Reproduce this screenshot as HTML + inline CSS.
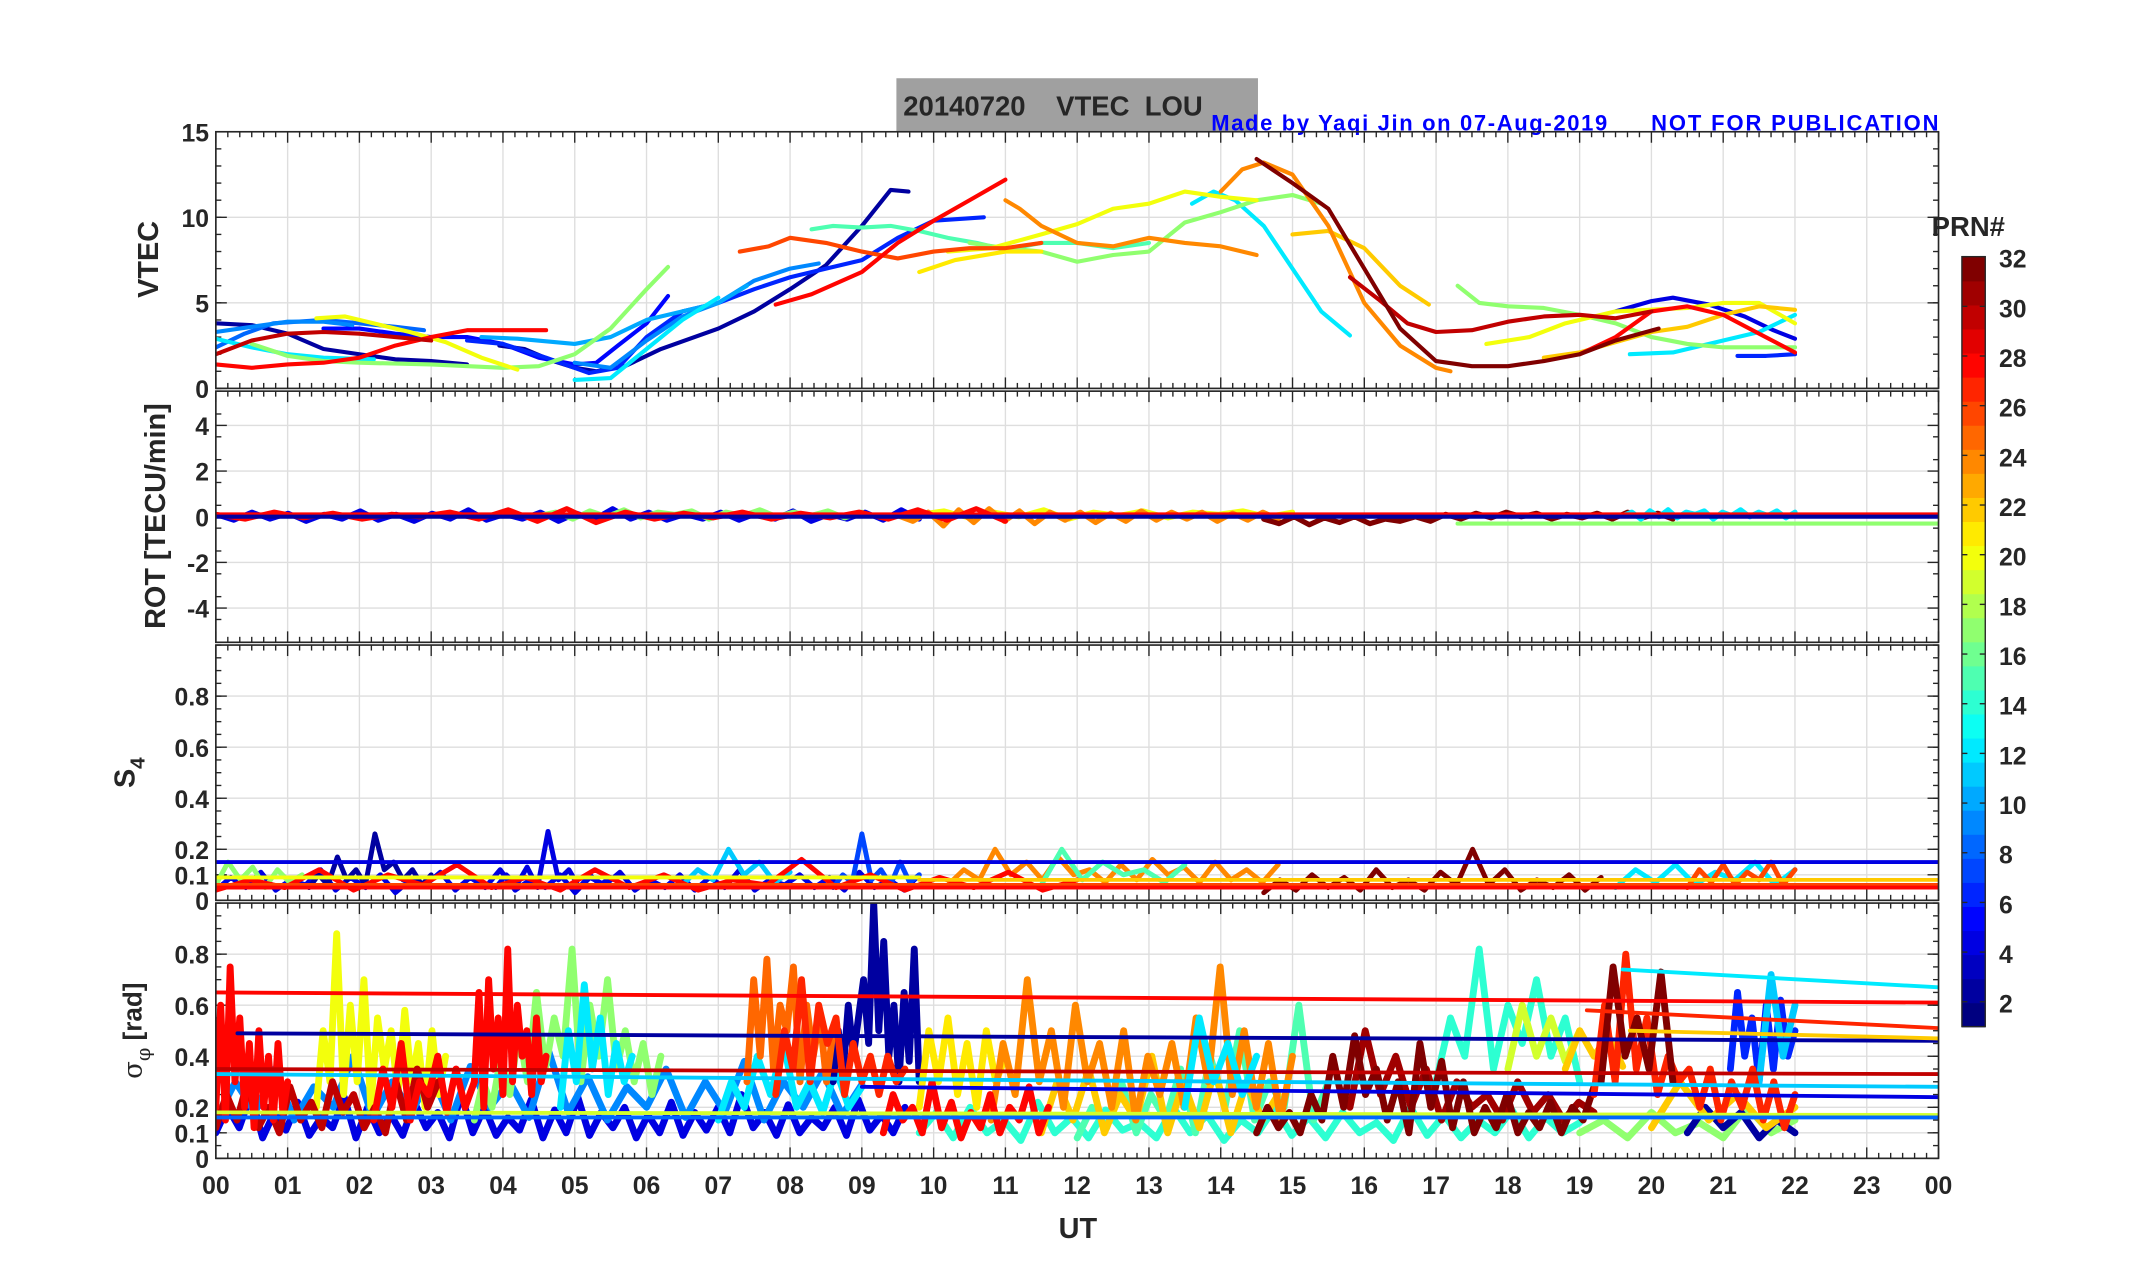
<!DOCTYPE html>
<html><head><meta charset="utf-8"><title>VTEC LOU</title>
<style>
html,body{margin:0;padding:0;background:#fff;}
svg{display:block;}
text{font-family:"Liberation Sans",sans-serif;font-weight:bold;fill:#262626;}
.tk{font-family:"Liberation Sans Narrow","Liberation Sans",sans-serif;font-size:18px;}
</style></head><body>
<svg id="fig" width="2153" height="1286" viewBox="0 0 1566 937" preserveAspectRatio="none" xmlns="http://www.w3.org/2000/svg">
<rect x="0" y="0" width="1566" height="937" fill="#fff"/>
<g id="title-box">
<rect x="652" y="57" width="263" height="39" fill="#a0a0a0"/>
<text x="657" y="84" font-size="20" xml:space="preserve" fill="#1a1a1a">20140720    VTEC  LOU</text>
</g>
<text x="881" y="95" font-size="16" style="fill:#0000ff" textLength="288">Made by Yaqi Jin on 07-Aug-2019</text>
<text x="1201" y="95" font-size="16" style="fill:#0000ff" textLength="209">NOT FOR PUBLICATION</text>
<g id="layer"></g>
</svg>
<script>
// ---------------- VTEC data: [hour, TECU] per PRN ----------------
const vtec_prn2a=[[0,3.8],[0.5,3.7],[1,3.2],[1.5,2.3],[2,2.0],[2.5,1.7],[3,1.6],[3.5,1.4]];
const vtec_prn2b=[[3.95,2.5],[4.3,2.3],[4.7,1.6],[5.0,1.2],[5.3,1.0],[5.7,1.3],[6.2,2.3],[7,3.5],[7.5,4.5],[8,5.8],[8.5,7.2],[9,9.5],[9.4,11.6],[9.65,11.5]];
const vtec_prn5=[[1.5,3.5],[2,3.5],[2.5,3.2],[3,3.0],[3.5,3.0],[4,2.6],[4.5,1.8],[5,1.4],[5.3,1.5],[5.6,2.5],[6,3.8],[6.3,5.4]];
const vtec_prn6=[[3.5,2.8],[4,2.6],[4.6,1.8],[5.2,0.9],[5.6,1.2],[6,3.0],[6.5,4.5],[7,5.0],[7.5,5.8],[8,6.5],[8.5,7.0],[9,7.5],[9.5,8.8],[10,9.8],[10.7,10.0]];
const vtec_prn6b=[[21.2,1.9],[21.6,1.9],[22,2.0]];
const vtec_prn4=[[19.5,4.5],[20,5.1],[20.3,5.3],[20.8,4.9],[21.3,4.2],[21.7,3.4],[22,2.9]];
const vtec_prn8=[[0,2.4],[0.4,3.2],[0.8,3.8],[1.5,4.0],[2,3.8],[2.5,3.6],[2.9,3.4]];
const vtec_prn9=[[0,3.3],[0.5,3.6],[1,3.9],[1.5,3.9],[1.9,3.7]];
const vtec_prn9b=[[5,1.5],[5.5,1.2],[6,2.8],[6.5,4.2],[7,5.0],[7.5,6.3],[8,7.0],[8.4,7.3]];
const vtec_prn10=[[3.7,3.0],[4.2,2.9],[5,2.6],[5.5,3.0],[6,4.0],[6.5,4.5],[7,5.0],[7.4,6.0]];
const vtec_prn12a=[[0,2.9],[0.5,2.4],[1,2.0],[1.5,1.8],[2.2,1.7]];
const vtec_prn12b=[[5.0,0.5],[5.5,0.6],[6,2.3],[6.5,4.0],[7,5.3]];
const vtec_prn12c=[[13.6,10.8],[13.9,11.5],[14.2,11.0],[14.6,9.5],[15,7.0],[15.4,4.5],[15.8,3.1]];
const vtec_prn12d=[[19.7,2.0],[20.3,2.1],[21,2.8],[21.5,3.3],[22,4.3]];
const vtec_prn15=[[8.3,9.3],[8.6,9.5],[9,9.4],[9.4,9.5],[9.8,9.2],[10.2,8.8],[10.6,8.5],[11,8.1],[11.5,8.5],[12,8.5],[12.5,8.2],[13,8.5]];
const vtec_prn17a=[[0.5,2.6],[1,1.9],[1.5,1.6],[2,1.5],[3,1.4],[4,1.2],[4.5,1.3],[5,2.0],[5.5,3.5],[6,5.8],[6.3,7.1]];
const vtec_prn17b=[[10.5,8.5],[11,8.2],[11.5,8.0],[12,7.4],[12.5,7.8],[13,8.0],[13.5,9.7],[14,10.3],[14.5,11.0],[15,11.3],[15.4,10.8]];
const vtec_prn17c=[[17.3,6.0],[17.6,5.0],[18,4.8],[18.5,4.7],[19,4.3],[19.5,3.8],[20,3.0],[20.5,2.6],[21,2.4],[21.5,2.4],[22,2.4]];
const vtec_prn20a=[[1.4,4.1],[1.8,4.2],[2.2,3.8],[2.7,3.3],[3.2,2.7],[3.7,1.8],[4.2,1.1]];
const vtec_prn20b=[[10.2,8.0],[10.8,8.2],[11.5,9.0],[12,9.6],[12.5,10.5],[13,10.8],[13.5,11.5],[14,11.2],[14.5,11.0]];
const vtec_prn20c=[[17.7,2.6],[18.3,3.0],[18.8,3.8],[19.5,4.5],[20.5,4.7],[21,5.0],[21.5,5.0],[22,3.8]];
const vtec_prn21=[[9.8,6.8],[10.3,7.5],[11,8.0],[11.5,8.0]];
const vtec_prn22a=[[15,9.0],[15.5,9.2],[16,8.2],[16.5,6.0],[16.9,4.9]];
const vtec_prn22b=[[18.5,1.8],[19,2.1],[19.5,2.7],[20,3.3],[20.5,3.6],[21,4.3],[21.5,4.8],[22,4.6]];
const vtec_prn24a=[[11,11.0],[11.2,10.5],[11.5,9.5],[12,8.5],[12.5,8.3],[13,8.8],[13.5,8.5],[14,8.3],[14.5,7.8]];
const vtec_prn24b=[[14,11.5],[14.3,12.8],[14.6,13.2],[15,12.5],[15.5,9.5],[16,5.0],[16.5,2.5],[17,1.2],[17.2,1.0]];
const vtec_prn26=[[7.3,8.0],[7.7,8.3],[8,8.8],[8.5,8.5],[9,8.0],[9.5,7.6],[10,8.0],[10.5,8.2],[11,8.2],[11.5,8.5]];
const vtec_prn28a=[[0,1.4],[0.5,1.2],[1,1.4],[1.5,1.5],[2,1.8],[2.5,2.5],[3,3.0],[3.5,3.4],[4,3.4],[4.6,3.4]];
const vtec_prn28b=[[7.8,4.9],[8.3,5.5],[9,6.8],[9.5,8.5],[10,9.8],[10.5,11.0],[11,12.2]];
const vtec_prn28c=[[19,2.0],[19.5,3.0],[20,4.5],[20.5,4.8],[21,4.3],[21.5,3.2],[22,2.1]];
const vtec_prn30a=[[0,2.0],[0.5,2.8],[1,3.2],[1.5,3.3],[2,3.2],[2.5,3.0],[3,2.8]];
const vtec_prn30b=[[15.8,6.5],[16.2,5.2],[16.6,3.8],[17,3.3],[17.5,3.4],[18,3.9],[18.5,4.2],[19,4.3],[19.5,4.1],[20,4.5]];
const vtec_prn32=[[14.5,13.4],[15,12.0],[15.5,10.5],[16,7.0],[16.5,3.5],[17,1.6],[17.5,1.3],[18,1.3],[18.5,1.6],[19,2.0],[19.5,2.8],[20.1,3.5]];
const vtecSeries=[[2,vtec_prn2a],[2,vtec_prn2b],[5,vtec_prn5],[6,vtec_prn6],[6,vtec_prn6b],[4,vtec_prn4],[8,vtec_prn8],[9,vtec_prn9],[9,vtec_prn9b],[10,vtec_prn10],[12,vtec_prn12a],[12,vtec_prn12b],[12,vtec_prn12c],[12,vtec_prn12d],[15,vtec_prn15],[17,vtec_prn17a],[17,vtec_prn17b],[17,vtec_prn17c],[20,vtec_prn20a],[20,vtec_prn20b],[20,vtec_prn20c],[21,vtec_prn21],[22,vtec_prn22a],[22,vtec_prn22b],[24,vtec_prn24a],[24,vtec_prn24b],[26,vtec_prn26],[28,vtec_prn28a],[28,vtec_prn28b],[28,vtec_prn28c],[30,vtec_prn30a],[30,vtec_prn30b],[32,vtec_prn32]];

// ---------------- ROT data ----------------
const rot_blue=[0.1,-0.15,0.2,-0.1,0.15,-0.2,0.1,-0.1,0.25,-0.15,0.1,-0.2,0.15,-0.1,0.3,-0.15,0.1,-0.1,0.2,-0.2,0.15,-0.1,0.35,-0.1,0.2,-0.15,0.1,-0.1,0.2,-0.15,0.15,-0.1,0.25,-0.2,0.1,-0.1,0.2,-0.15,0.3,-0.1];
const rot_green=[0.05,0.2,-0.1,0.25,0.0,0.3,-0.05,0.2,0.1,0.25,-0.1,0.2,0.05,0.3,0.0,0.2,0.05,0.25,-0.05,0.2];
const rot_orange=[0.05,-0.2,0.2,-0.4,0.3,-0.25,0.35,-0.2,0.25,-0.3,0.2,-0.15,0.2,-0.25,0.15,-0.2,0.25,-0.15,0.2,-0.1,0.2,-0.2,0.15,-0.15,0.2,-0.1];
const rot_red=[0.1,-0.1,0.2,-0.05,0.15,-0.1,0.1,0.0,0.2,-0.1,0.3,-0.2,0.35,-0.25,0.2,-0.1,0.15,-0.05,0.2,-0.1,0.15,-0.05,0.2,-0.1,0.3,-0.15,0.35,-0.2];
const rot_maroon=[-0.1,-0.3,0.0,-0.35,-0.05,-0.25,0.0,-0.3,-0.1,-0.2,0.0,-0.2,0.1,-0.1,0.15,-0.05,0.2,0.0,0.15,-0.1,0.1,-0.05,0.15,-0.1,0.2,-0.05,0.15,-0.1];
const rot_yellow=[0.1,0.25,-0.05,0.2,0.0,0.3,-0.1,0.2,0.05,0.25,-0.05,0.2,0.1,0.25,0.0,0.2];
const rotSegs=[[4,0,9.8,rot_blue],[17,4.5,9,rot_green],[20,9.8,15,rot_yellow],[24,9.5,14.8,rot_orange],[28,0,11,rot_red],[32,14.6,20.3,rot_maroon],[12,19.6,22,rot_green]];
const rotFlat=[[28,0,24,0.1,0.1],[2,0,24,0.0,0.0],[17,17.3,24,-0.3,-0.3]];

// ---------------- S4 data ----------------
const s4_base=[0.04,0.09,0.05,0.11,0.04,0.08,0.06,0.12,0.04,0.09,0.05,0.1,0.03,0.08,0.06,0.11,0.04,0.09,0.05,0.12,0.04,0.08,0.05,0.1,0.03,0.09,0.06,0.11,0.04,0.08,0.05,0.1,0.04,0.09,0.05,0.12,0.04,0.08,0.06,0.1,0.05,0.09,0.04,0.11,0.05,0.08,0.04,0.1];
const s4_green=[0.06,0.15,0.08,0.13,0.05,0.12,0.07,0.1];
const s4_navy=[0.05,0.1,0.06,0.17,0.08,0.12,0.06,0.26,0.12,0.15,0.08,0.12,0.06,0.1];
const s4_blue=[0.05,0.1,0.06,0.13,0.05,0.27,0.08,0.12,0.05,0.1,0.06,0.09];
const s4_lblue=[0.06,0.12,0.08,0.2,0.1,0.15,0.07,0.11];
const s4_b9=[0.05,0.1,0.07,0.26,0.08,0.12,0.06,0.15,0.07,0.1];
const s4_orange=[0.06,0.12,0.08,0.2,0.1,0.15,0.08,0.17,0.1,0.12,0.07,0.14,0.08,0.16,0.1,0.13,0.07,0.15,0.08,0.12,0.07,0.14];
const s4_teal=[0.06,0.2,0.08,0.15,0.1,0.12,0.07,0.14];
const s4_red=[0.04,0.08,0.05,0.12,0.04,0.1,0.06,0.14,0.05,0.09,0.04,0.12,0.05,0.1,0.04,0.08,0.06,0.16,0.05,0.1,0.04,0.09,0.05,0.11,0.04,0.08];
const s4_maroon=[0.03,0.08,0.04,0.1,0.05,0.09,0.04,0.12,0.05,0.08,0.04,0.11,0.06,0.2,0.06,0.12,0.04,0.08,0.05,0.1,0.04,0.09];
const s4_late=[0.05,0.12,0.07,0.14,0.06,0.11,0.08,0.15,0.06,0.12];
const s4Segs=[[4,0,9.8,s4_base],[17,0,1.2,s4_green],[2,1.3,3,s4_navy],[4,3.9,5.5,s4_blue],[11,6.5,8,s4_lblue],[7,8.6,9.8,s4_b9],[24,10.2,14.8,s4_orange],[15,11.5,13.5,s4_teal],[28,0,12,s4_red],[32,14.6,19.3,s4_maroon],[12,19.5,22,s4_late],[26,20.5,22,s4_late]];
const s4Flat=[[4,0,24,0.15,0.15],[20,0,9.8,0.09,0.09],[22,9.8,24,0.08,0.08],[26,0,24,0.06,0.06],[28,0,24,0.05,0.05]];

// ---------------- sigma_phi data ----------------
const sig_blue=[0.1,0.2,0.12,0.25,0.08,0.18,0.11,0.22,0.09,0.16,0.12,0.24,0.08,0.2,0.1,0.17,0.09,0.22,0.12,0.18,0.08,0.25,0.1,0.2,0.09,0.16,0.11,0.23,0.08,0.19,0.1,0.24,0.09,0.18,0.12,0.2,0.08,0.17,0.1,0.22,0.09,0.18,0.11,0.2,0.1,0.25,0.12,0.18,0.09,0.21,0.1,0.16,0.12,0.2,0.09,0.23,0.11,0.17,0.1,0.2];
const sig_lblue=[0.15,0.3,0.18,0.35,0.15,0.28,0.2,0.4,0.16,0.3,0.18,0.33,0.15,0.36,0.2,0.3,0.16,0.42,0.18,0.32,0.15,0.28,0.2,0.35,0.16,0.3,0.18,0.38,0.15,0.3,0.2,0.34,0.17,0.29];
const sig_teal_low=[0.1,0.18,0.08,0.2,0.1,0.15,0.07,0.22,0.1,0.16,0.08,0.19,0.11,0.14,0.08,0.2,0.1,0.17,0.07,0.15,0.1,0.2,0.09,0.16,0.08,0.18,0.1,0.14,0.07,0.2,0.09,0.17,0.08,0.15,0.1,0.19,0.08,0.16,0.1,0.14];
const sig_navy=[0.3,0.5,0.35,0.6,0.4,0.55,0.7,0.45,1.0,0.5,0.85,0.4,0.6,0.3,0.65,0.38,0.82,0.3];
const sig_red_a=[0.2,0.6,0.15,0.75,0.3,0.55,0.2,0.45,0.12,0.5,0.2,0.4,0.15,0.45,0.18,0.3];
const sig_red_b=[0.3,0.65,0.2,0.7,0.35,0.55,0.25,0.82,0.3,0.6,0.4,0.5,0.25,0.55,0.3,0.4];
const sig_red_c=[0.15,0.35,0.2,0.45,0.15,0.3,0.25,0.4,0.18,0.35,0.2,0.3];
const sig_yellow_a=[0.2,0.5,0.3,0.88,0.25,0.6,0.3,0.7,0.2,0.55,0.35,0.5,0.25,0.58,0.3,0.45,0.2,0.5,0.25,0.4];
const sig_green_a=[0.15,0.3,0.2,0.4,0.25,0.5,0.3,0.65,0.35,0.55,0.4,0.82,0.3,0.6,0.4,0.7,0.35,0.5,0.3,0.45,0.25,0.4];
const sig_cyan_a=[0.2,0.5,0.3,0.68,0.35,0.55,0.25,0.45,0.3,0.4];
const sig_cyan_b=[0.15,0.3,0.2,0.4,0.25,0.45,0.2,0.3,0.18,0.35,0.2,0.28];
const sig_orred=[0.3,0.7,0.4,0.78,0.35,0.6,0.5,0.75,0.3,0.6,0.4,0.55,0.3,0.5];
const sig_red27=[0.25,0.5,0.35,0.7,0.3,0.6,0.45,0.55,0.25,0.45,0.3,0.4,0.25,0.4,0.3,0.35];
const sig_dred_a=[0.12,0.25,0.15,0.3,0.12,0.2,0.1,0.28,0.15,0.22,0.12,0.3,0.18,0.25,0.12,0.2,0.1,0.3,0.15,0.35,0.2,0.3];
const sig_red_low=[0.1,0.25,0.15,0.2,0.1,0.3,0.12,0.22,0.08,0.18,0.12,0.25,0.1,0.2,0.15,0.28,0.1,0.2];
const sig_yellow_b=[0.2,0.5,0.3,0.55,0.25,0.45,0.2,0.5,0.3,0.4];
const sig_orange24=[0.15,0.45,0.25,0.7,0.3,0.5,0.2,0.6,0.3,0.45,0.2,0.5,0.15,0.4,0.25,0.45,0.2,0.55,0.3,0.75,0.25,0.5,0.2,0.45,0.15,0.4];
const sig_orange22=[0.1,0.3,0.15,0.35,0.1,0.25,0.15,0.4,0.1,0.3,0.12,0.35,0.1,0.3,0.15,0.25];
const sig_green15=[0.08,0.2,0.12,0.3,0.1,0.25,0.15,0.35,0.1,0.4,0.2,0.5,0.15,0.3,0.2,0.6,0.15,0.3];
const sig_cyan_c=[0.2,0.55,0.3,0.45,0.25,0.4];
const sig_maroon=[0.1,0.2,0.12,0.18,0.1,0.25,0.15,0.4,0.2,0.48,0.25,0.35,0.15,0.3,0.1,0.45,0.2,0.38,0.12,0.3,0.1,0.2,0.12,0.25,0.1,0.18,0.12,0.22,0.1,0.2,0.15,0.28];
const sig_dred_b=[0.2,0.5,0.25,0.4,0.2,0.35,0.15,0.3,0.2,0.25,0.15,0.3,0.18,0.25,0.15,0.22,0.18];
const sig_mint=[0.3,0.55,0.4,0.82,0.35,0.6,0.45,0.7,0.4,0.55,0.3];
const sig_yellow_c=[0.35,0.6,0.4,0.55,0.38,0.5];
const sig_orange_c=[0.35,0.5,0.4,0.48,0.36];
const sig_red_d=[0.25,0.6,0.3,0.8,0.35,0.55,0.25,0.4,0.3,0.35,0.2,0.35,0.15,0.3,0.2,0.35,0.15,0.3,0.12,0.25];
const sig_maroon_b=[0.3,0.75,0.4,0.55,0.35,0.73,0.3];
const sig_green_c=[0.1,0.15,0.08,0.18,0.1,0.14,0.08,0.2,0.1,0.15];
const sig_blue6=[0.35,0.65,0.4,0.55,0.3,0.6,0.35,0.62,0.4,0.5];
const sig_cyan_d=[0.3,0.72,0.4,0.6];
const sig_navy_b=[0.1,0.2,0.12,0.18,0.08,0.15,0.1];
const sig_orange_d=[0.12,0.3,0.15,0.25,0.12,0.2];
const sigSegs=[[4,0,9.6,sig_blue],[9,0,9,sig_lblue],[14,9.8,19,sig_teal_low],[12,7,9,sig_cyan_b],[17,3.6,6.2,sig_green_a],[12,4.8,5.8,sig_cyan_a],[20,1.4,3.2,sig_yellow_a],[30,0,3.1,sig_dred_a],[28,0,1,sig_red_a],[28,3.6,4.6,sig_red_b],[28,2.2,3.6,sig_red_c],[2,8.6,9.8,sig_navy],[25,7.4,8.6,sig_orred],[27,7.8,9.6,sig_red27],[15,12,15.5,sig_green15],[21,9.8,11,sig_yellow_b],[22,11.5,14.8,sig_orange22],[24,10.8,15,sig_orange24],[28,9.3,11.6,sig_red_low],[12,13.5,14.5,sig_cyan_c],[17,19,22,sig_green_c],[14,17,19,sig_mint],[19,18,19,sig_yellow_c],[22,18.8,19.6,sig_orange_c],[31,15.8,19.2,sig_dred_b],[32,14.5,19.2,sig_maroon],[6,21.1,22,sig_blue6],[11,21.5,22,sig_cyan_d],[2,20.5,22,sig_navy_b],[22,20,22,sig_orange_d],[27,19.2,22,sig_red_d],[32,19.3,20.3,sig_maroon_b]];
const sigFlat=[[28,0,24,0.65,0.61],[2,0.3,24,0.49,0.46],[30,0,24,0.35,0.33],[11,0,24,0.33,0.28],[4,9,24,0.28,0.24],[19,0,24,0.18,0.17],[8,0,24,0.16,0.16],[12,19.6,24,0.74,0.67],[27,19.1,24,0.58,0.51],[22,19.7,24,0.5,0.47]];

const hourLabels=["00","01","02","03","04","05","06","07","08","09","10","11","12","13","14","15","16","17","18","19","20","21","22","23","00"];
const vtecTicks=[0,5,10,15];
const rotTicks=[-4,-2,0,2,4];
const s4Ticks=[0,0.1,0.2,0.4,0.6,0.8];
const sigTicks=[0,0.1,0.2,0.4,0.6,0.8];
const cbTicks=[2,4,6,8,10,12,14,16,18,20,22,24,26,28,30,32];

// ---------------- drawing ----------------
const NS="http://www.w3.org/2000/svg";
const layer=document.getElementById('layer');
const X0=157,X1=1410;
const xs=h=>X0+h*(X1-X0)/24;
const panels=[{top:96,bot:283,min:0,max:15,minor:1,ticks:vtecTicks,name:'vtec'},
{top:285,bot:468,min:-5.5,max:5.5,minor:1,ticks:rotTicks,name:'rot'},
{top:470,bot:656,min:0,max:1,minor:0.05,ticks:s4Ticks,name:'s4'},
{top:658,bot:844,min:0,max:1,minor:0.05,ticks:sigTicks,name:'sigma'}];
const ys=(p,v)=>p.bot-(v-p.min)/(p.max-p.min)*(p.bot-p.top);
function jet(t){const c=x=>Math.round(255*Math.max(0,Math.min(1,x)));
 return `rgb(${c(1.5-Math.abs(4*t-3))},${c(1.5-Math.abs(4*t-2))},${c(1.5-Math.abs(4*t-1))})`;}
const prnColor=p=>jet((p-1)/31);
function mk(tag,attrs,parent){const e=document.createElementNS(NS,tag);for(const k in attrs)e.setAttribute(k,attrs[k]);(parent||layer).appendChild(e);return e;}
const defs=mk('defs',{});
panels.forEach((p,i)=>{const cp=mk('clipPath',{id:'clip'+i},defs);mk('rect',{x:X0,y:p.top,width:X1-X0,height:p.bot-p.top},cp);});

function drawAxes(p,i){
 const g=mk('g',{});
 
 
 for(let h=1;h<24;h++)mk('line',{x1:xs(h),x2:xs(h),y1:p.top,y2:p.bot,stroke:'#dedede','stroke-width':1},g);
 p.ticks.forEach(v=>{if(v>p.min&&v<p.max)mk('line',{x1:X0,x2:X1,y1:ys(p,v),y2:ys(p,v),stroke:'#dedede','stroke-width':1},g);});
 for(let m=0;m<=144;m++){const x=xs(m/6),L=(m%6===0)?8:4;
  mk('line',{x1:x,x2:x,y1:p.top,y2:p.top+L,stroke:'#262626','stroke-width':1},g);
  mk('line',{x1:x,x2:x,y1:p.bot,y2:p.bot-L,stroke:'#262626','stroke-width':1},g);}
 for(let v=p.min;v<=p.max+1e-9;v+=p.minor){const y=ys(p,v);
  mk('line',{x1:X0,x2:X0+4,y1:y,y2:y,stroke:'#262626','stroke-width':1},g);
  mk('line',{x1:X1,x2:X1-4,y1:y,y2:y,stroke:'#262626','stroke-width':1},g);}
 p.ticks.forEach(v=>{const y=ys(p,v);
  mk('line',{x1:X0,x2:X0+8,y1:y,y2:y,stroke:'#262626','stroke-width':1},g);
  mk('line',{x1:X1,x2:X1-8,y1:y,y2:y,stroke:'#262626','stroke-width':1},g);
  const t=mk('text',{x:X0-5,y:y+7,'text-anchor':'end',class:'tk'},g);t.textContent=String(v);
  
  });
}
function poly(pts,color,w,clip,name){
 const e=mk('polyline',{points:pts.map(q=>q[0].toFixed(1)+','+q[1].toFixed(1)).join(' '),fill:'none',stroke:color,'stroke-width':w,'stroke-linejoin':'round','stroke-linecap':'round','clip-path':'url(#clip'+clip+')'});
 
 
 return e;}
function drawSegs(segs,pi,w,name){const p=panels[pi];
 segs.forEach(s=>{const [prn,t0,t1,vals]=s;const n=vals.length;
  const pts=vals.map((v,k)=>[xs(t0+(t1-t0)*k/(n-1)),ys(p,v)]);
  poly(pts,prnColor(prn),w,pi,name+'-prn'+prn);});}
function drawFlat(flats,pi,w,name){const p=panels[pi];
 flats.forEach(f=>{const [prn,t0,t1,v0,v1]=f;poly([[xs(t0),ys(p,v0)],[xs(t1),ys(p,v1)]],prnColor(prn),w,pi,name+'-flat-prn'+prn);});}

panels.forEach(drawAxes);
vtecSeries.forEach(s=>{const [prn,pts]=s;poly(pts.map(q=>[xs(q[0]),ys(panels[0],q[1])]),prnColor(prn),3,0,'vtec-line-prn'+prn);});
drawSegs(rotSegs,1,3.8,'rot-line');drawFlat(rotFlat,1,3,'rot');
drawSegs(s4Segs,2,3.6,'s4-line');drawFlat(s4Flat,2,2.8,'s4');
drawSegs(sigSegs,3,5,'sigma-line');drawFlat(sigFlat,3,2.8,'sigma');

panels.forEach(p=>{const r=mk('rect',{x:X0,y:p.top,width:X1-X0,height:p.bot-p.top,fill:'none',stroke:'#262626','stroke-width':1.2});
 
 });
hourLabels.forEach((l,i)=>{const t=mk('text',{x:xs(i),y:870,'text-anchor':'middle',class:'tk','font-size':'20'});t.textContent=l;
 
 });
const ut=mk('text',{x:784,y:902,'text-anchor':'middle','font-size':'21'});ut.textContent='UT';


function ylab(txt,x,y,name,fs){const t=mk('text',{x:x,y:y,'text-anchor':'middle','font-size':fs||21,transform:`rotate(-90 ${x} ${y})`});t.textContent=txt;
 
 return t;}
ylab('VTEC',115,189,'vtec-y-axis-title');
ylab('ROT [TECU/min]',120,376,'rot-y-axis-title');
const s4l=mk('text',{x:98,y:563,'text-anchor':'middle','font-size':21,transform:'rotate(-90 98 563)'});


s4l.innerHTML='S<tspan dy="7" font-size="15">4</tspan>';
const sgl=mk('text',{x:103,y:751,'text-anchor':'middle','font-size':19,transform:'rotate(-90 103 751)'});


sgl.innerHTML='<tspan font-family="DejaVu Serif" font-weight="normal">σ</tspan><tspan dy="6" font-size="14" font-family="DejaVu Serif" font-weight="normal">φ</tspan><tspan dy="-6"> [rad]</tspan>';

// colorbar
const CB={x:1427,w:17,top:187,bot:748};
const cbg=mk('g',{});


const bh=(CB.bot-CB.top)/32;
for(let i=0;i<32;i++)mk('rect',{x:CB.x,y:CB.bot-(i+1)*bh,width:CB.w,height:bh+0.5,fill:jet(i/31)},cbg);
mk('rect',{x:CB.x,y:CB.top,width:CB.w,height:CB.bot-CB.top,fill:'none',stroke:'#262626','stroke-width':1},cbg);
cbTicks.forEach(v=>{const y=CB.bot-(v-1)/31*(CB.bot-CB.top);
 mk('line',{x1:CB.x,x2:CB.x+4,y1:y,y2:y,stroke:'#262626'},cbg);mk('line',{x1:CB.x+CB.w,x2:CB.x+CB.w-4,y1:y,y2:y,stroke:'#262626'},cbg);
 const t=mk('text',{x:1454,y:y+8,class:'tk','font-size':'22'},cbg);t.textContent=v;
 
 });
const prn=mk('text',{x:1405,y:172,'font-size':'20'});prn.textContent='PRN#';


</script>
</body></html>
